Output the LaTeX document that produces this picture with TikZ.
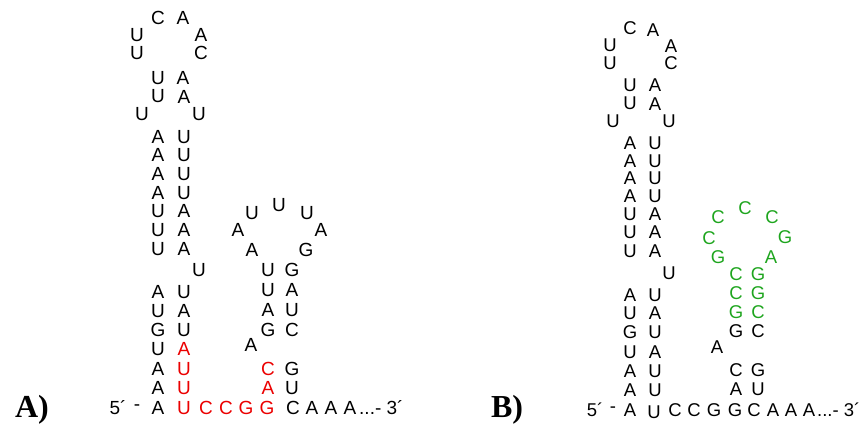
\documentclass[tikz,border=0pt]{standalone}
\usepackage{fontspec}
\setmainfont{Liberation Sans}
\newfontfamily\labfont{Liberation Serif}
\definecolor{nred}{RGB}{235,0,0}
\definecolor{ngreen}{RGB}{30,165,30}
\begin{document}
\begin{tikzpicture}[x=1pt,y=-1pt,
  nta/.style={inner sep=0pt,font=\fontsize{19}{21}\selectfont},
  ntb/.style={inner sep=0pt,font=\fontsize{18.5}{21}\selectfont},
  red/.style={text=nred},
  grn/.style={text=ngreen},
  lab/.style={inner sep=0pt,font=\labfont\bfseries\fontsize{32}{34}\selectfont}]
\useasboundingbox (0,0) rectangle (865,430);
% ---------------- Panel A ----------------
\node[lab] (labA) at (32,410) {A)};
% top loop
\node[nta] (a1) at (158,18) {C};
\node[nta] (a2) at (183,18) {A};
\node[nta] (a3) at (137,35) {U};
\node[nta] (a4) at (201,35) {A};
\node[nta] (a5) at (137,53) {U};
\node[nta] (a6) at (201,53) {C};
\node[nta] (a7) at (158,78) {U};
\node[nta] (a8) at (183,78) {A};
\node[nta] (a9) at (158,96) {U};
\node[nta] (a10) at (184,97) {A};
\node[nta] (a11) at (142,114) {U};
\node[nta] (a12) at (199,114) {U};
% upper stem
\foreach \y/\l/\r [count=\i] in {137/A/U,155/A/U,174/A/U,193/A/U,211/U/A,230/U/A,249/U/A}{
  \node[nta] (aul\i) at (158,\y) {\l};
  \node[nta] (aur\i) at (184,\y) {\r};
}
\node[nta] (atu) at (199,270) {U};
% lower stem
\foreach \y/\l/\r [count=\i] in {292/A/U,311/U/A,330/G/U}{
  \node[nta] (all\i) at (158,\y) {\l};
  \node[nta] (alr\i) at (184,\y) {\r};
}
\node[nta] (all4) at (158,349) {U};
\node[nta,red] (alr4) at (184,349) {A};
\node[nta] (all5) at (158,369) {A};
\node[nta,red] (alr5) at (184,369) {U};
\node[nta] (all6) at (158,388) {A};
\node[nta,red] (alr6) at (184,388) {U};
% bottom row
\node[nta] (ab0) at (118,408) {5´};
\node[nta] (abd) at (137,408) {-};
\node[nta] (ab1) at (158,408) {A};
\node[nta,red] (ab2) at (184,408) {U};
\node[nta,red] (ab3) at (206,408) {C};
\node[nta,red] (ab4) at (226,408) {C};
\node[nta,red] (ab5) at (246,408) {G};
\node[nta,red] (ab6) at (267,408) {G};
\node[nta] (ab7) at (293,408) {C};
\node[nta] (ab8) at (312,408) {A};
\node[nta] (ab9) at (331,408) {A};
\node[nta] (ab10) at (350,408) {A};
\node[nta,anchor=west] (ab11) at (359,408) {...- 3´};
% right hairpin
\node[nta] (ah1) at (268,270) {U};
\node[nta] (ah2) at (292,270) {G};
\node[nta] (ah3) at (268,290) {U};
\node[nta] (ah4) at (292,290) {A};
\node[nta] (ah5) at (268,310) {A};
\node[nta] (ah6) at (292,310) {U};
\node[nta] (ah7) at (268,330) {G};
\node[nta] (ah8) at (292,330) {C};
\node[nta] (ahb) at (251,345) {A};
\node[nta,red] (ah9) at (268,369) {C};
\node[nta] (ah10) at (292,369) {G};
\node[nta,red] (ah11) at (268,388) {A};
\node[nta] (ah12) at (292,388) {U};
\node[nta] (ahl1) at (252,250) {A};
\node[nta] (ahl2) at (238,230) {A};
\node[nta] (ahl3) at (252,213) {U};
\node[nta] (ahl4) at (279,205) {U};
\node[nta] (ahl5) at (307,213) {U};
\node[nta] (ahl6) at (321,230) {A};
\node[nta] (ahl7) at (306,250) {G};
% ---------------- Panel B ----------------
\node[lab] (labB) at (507,410) {B)};
\node[ntb] (b1) at (630,28) {C};
\node[ntb] (b2) at (653,30) {A};
\node[ntb] (b3) at (610,45) {U};
\node[ntb] (b4) at (671,46) {A};
\node[ntb] (b5) at (610,63) {U};
\node[ntb] (b6) at (671,63) {C};
\node[ntb] (b7) at (630,85) {U};
\node[ntb] (b8) at (655,85) {A};
\node[ntb] (b9) at (630,103) {U};
\node[ntb] (b10) at (655,104) {A};
\node[ntb] (b11) at (613,121) {U};
\node[ntb] (b12) at (669,121) {U};
\foreach \y/\l/\r [count=\i] in {143/A/U,161/A/U,178/A/U,196/A/U,214/U/A,232/U/A,251/U/A}{
  \node[ntb] (bul\i) at (630,\y) {\l};
  \node[ntb] (bur\i) at (655,\y) {\r};
}
\node[ntb] (btu) at (669,273) {U};
\foreach \y/\l/\r [count=\i] in {295/A/U,313/U/A,332/G/U,352/U/A,371/A/U,390/A/U}{
  \node[ntb] (bll\i) at (630,\y) {\l};
  \node[ntb] (blr\i) at (655,\y) {\r};
}
\node[ntb] (bb0) at (595,410) {5´};
\node[ntb] (bbd) at (613,410) {-};
\node[ntb] (bb1) at (630,410) {A};
\node[ntb] (bb2) at (654,412) {U};
\node[ntb] (bb3) at (675,410) {C};
\node[ntb] (bb4) at (694,410) {C};
\node[ntb] (bb5) at (714,410) {G};
\node[ntb] (bb6) at (735,410) {G};
\node[ntb] (bb7) at (754,410) {C};
\node[ntb] (bb8) at (773,410) {A};
\node[ntb] (bb9) at (791,410) {A};
\node[ntb] (bb10) at (809,410) {A};
\node[ntb,anchor=west] (bb11) at (817,410) {...- 3´};
% right hairpin B
\node[ntb,grn] (bh1) at (736,274) {C};
\node[ntb,grn] (bh2) at (758,274) {G};
\node[ntb,grn] (bh3) at (736,293) {C};
\node[ntb,grn] (bh4) at (758,293) {G};
\node[ntb,grn] (bh5) at (736,312) {G};
\node[ntb,grn] (bh6) at (758,312) {C};
\node[ntb] (bh7) at (736,331) {G};
\node[ntb] (bh8) at (758,331) {C};
\node[ntb] (bhb) at (717,347) {A};
\node[ntb] (bh9) at (736,370) {C};
\node[ntb] (bh10) at (758,370) {G};
\node[ntb] (bh11) at (736,389) {A};
\node[ntb] (bh12) at (758,389) {U};
\node[ntb,grn] (bhl1) at (718,257) {G};
\node[ntb,grn] (bhl2) at (709,238) {C};
\node[ntb,grn] (bhl3) at (718,217) {C};
\node[ntb,grn] (bhl4) at (745,208) {C};
\node[ntb,grn] (bhl5) at (772,217) {C};
\node[ntb,grn] (bhl6) at (785,237) {G};
\node[ntb,grn] (bhl7) at (771,257) {A};
\end{tikzpicture}
\end{document}
